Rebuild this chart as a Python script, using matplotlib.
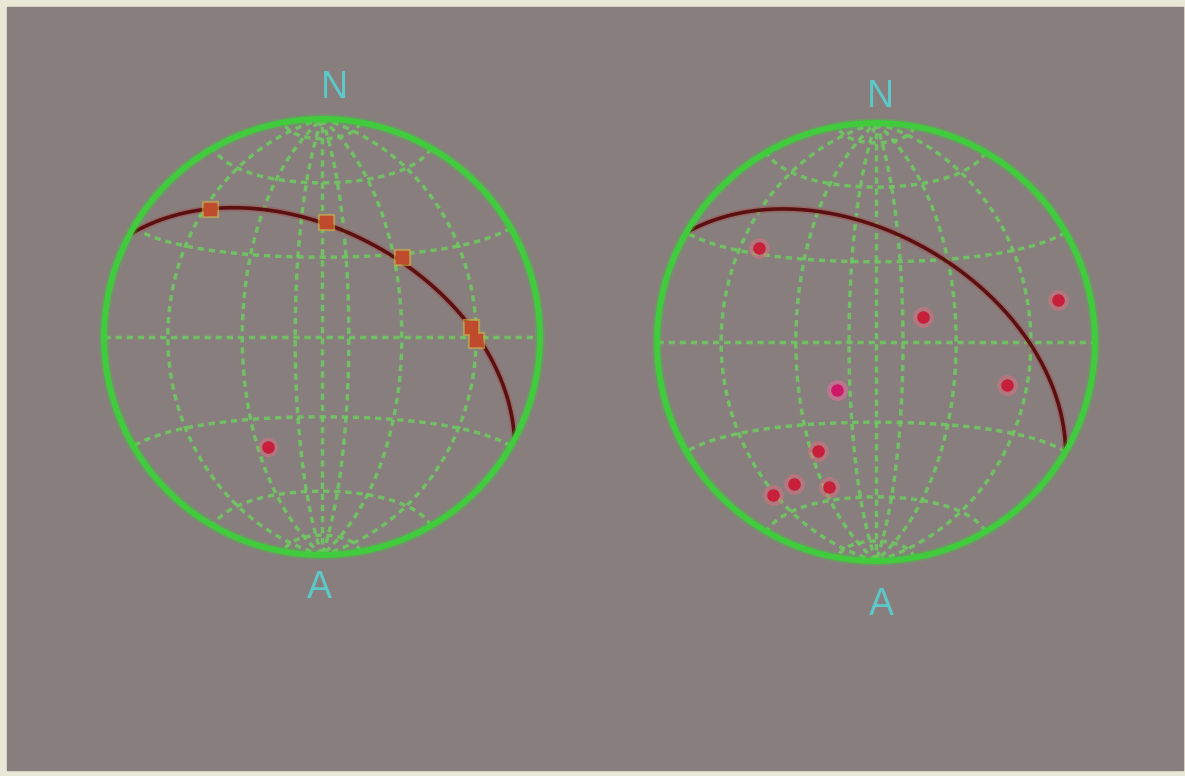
import numpy as np
import matplotlib.pyplot as plt
from matplotlib.patches import Rectangle

# plane (dip direction, dip) and measured lines (trend, plunge) for each net
plane_left = (28, 50)
arc_trend_left = [319, 2, 45, 86, 91]
arc_plunge_left = [23, 46, 47, 32, 30]
pole_trend_left = [206]
pole_plunge_left = [43]

plane_right = (30, 50)
pt_trend_right = [309, 62, 77, 108, 208, 210, 214, 198]
pt_plunge_right = [32, 70, 16, 37, 43, 26, 17, 31]
mag_trend_right = [219]
mag_plunge_right = [67]

net_steps = [10, 30, 60]   # grid spacing of the Schmidt net (degrees)
labels = ("N", "A")

bg = "#877e7d"
frame = "#e9e7d6"
green = "#40cc3c"
grid_green = "#70c862"
arc_col = "#5a1010"
cyan = "#5cc8c8"


def proj(e, n, d):
    # lower hemisphere equal-area, unit radius
    s = 1.0 / np.sqrt(1.0 + d)
    return e * s, n * s


def tp_to_xy(trend, plunge):
    t = np.radians(np.asarray(trend, float))
    p = np.radians(np.asarray(plunge, float))
    return proj(np.cos(p) * np.sin(t), np.cos(p) * np.cos(t), np.sin(p))


def plane_xy(dd, dip):
    a = np.linspace(0, np.pi, 200)
    st = np.radians(dd - 90)
    ddr, dr = np.radians(dd), np.radians(dip)
    e = np.cos(a) * np.sin(st) + np.sin(a) * np.cos(dr) * np.sin(ddr)
    n = np.cos(a) * np.cos(st) + np.sin(a) * np.cos(dr) * np.cos(ddr)
    d = np.sin(a) * np.sin(dr)
    return proj(e, n, d)


def small_circle_xy(alpha):
    phi = np.linspace(0, np.pi, 200)
    al = np.radians(alpha)
    e = np.sin(al) * np.cos(phi)
    n = np.full_like(phi, np.cos(al))
    d = np.sin(al) * np.sin(phi)
    return proj(e, n, d)


def draw_net(ax):
    dash = dict(color=grid_green, lw=2.5, ls=(0, (1.8, 1.4)), alpha=0.9, zorder=1)
    for s in net_steps:
        for dd in (90, 270):
            ax.plot(*plane_xy(dd, 90 - s), **dash)
        for al in (s, 180 - s):
            ax.plot(*small_circle_xy(al), **dash)
    ax.plot([0, 0], [-1, 1], **dash)
    ax.plot([-1, 1], [0, 0], **dash)
    # primitive circle sits over the plane traces so their ends tuck under it
    th = np.linspace(0, 2 * np.pi, 400)
    ax.plot(np.cos(th), np.sin(th), color=green, lw=7, alpha=0.3, zorder=4.5)
    ax.plot(np.cos(th), np.sin(th), color=green, lw=4.2, zorder=4.6)


fig = plt.figure(figsize=(11.85, 7.76), dpi=100, facecolor=frame)
panel = Rectangle((7 / 1185, 6 / 776), 1176 / 1185, 763 / 776,
                  transform=fig.transFigure, color=bg, zorder=-10)
fig.add_artist(panel)

W, H = 1185, 776
nets = [(322, 337, 218), (876, 342, 219)]
axes = []
for cx, cy, r in nets:
    half = 1.3 * r
    ax = fig.add_axes([(cx - half) / W, (H - cy - half) / H, 2 * half / W, 2 * half / H])
    ax.set_xlim(-1.3, 1.3)
    ax.set_ylim(-1.3, 1.3)
    ax.axis("off")
    ax.patch.set_alpha(0)
    draw_net(ax)
    axes.append(ax)

axl, axr = axes

# left net
x, y = plane_xy(*plane_left)
axl.plot(x, y, color="#b04040", lw=5, alpha=0.35, zorder=3)
axl.plot(x, y, color=arc_col, lw=2.6, zorder=4)
x, y = tp_to_xy(arc_trend_left, arc_plunge_left)
axl.plot(x, y, "s", ms=11, color="#d8b040", alpha=0.5, zorder=5)
axl.plot(x, y, "s", ms=8, color="#c04a2c", zorder=6)
x, y = tp_to_xy(pole_trend_left, pole_plunge_left)
axl.plot(x, y, "o", ms=13, color="#e07080", alpha=0.45, zorder=5)
axl.plot(x, y, "o", ms=8, color="#c81e3c", zorder=6)
axl.text(0.055, 1.14, labels[0], color=cyan, fontsize=27, ha="center", va="center",
         family="Liberation Sans")
axl.text(-0.01, -1.15, labels[1], color=cyan, fontsize=27, ha="center", va="center",
         family="Liberation Sans")

# right net
x, y = plane_xy(*plane_right)
axr.plot(x, y, color="#b04040", lw=5, alpha=0.35, zorder=3)
axr.plot(x, y, color=arc_col, lw=2.6, zorder=4)
x, y = tp_to_xy(pt_trend_right, pt_plunge_right)
axr.plot(x, y, "o", ms=14, color="#e07080", alpha=0.45, zorder=5)
axr.plot(x, y, "o", ms=8, color="#c8203a", zorder=6)
x, y = tp_to_xy(mag_trend_right, mag_plunge_right)
axr.plot(x, y, "o", ms=14, color="#e870a0", alpha=0.5, zorder=5)
axr.plot(x, y, "o", ms=8, color="#d0186a", zorder=6)
axr.text(0.02, 1.12, labels[0], color=cyan, fontsize=27, ha="center", va="center",
         family="Liberation Sans")
axr.text(0.027, -1.20, labels[1], color=cyan, fontsize=27, ha="center", va="center",
         family="Liberation Sans")

fig.savefig("out.png", dpi=100, facecolor=frame)
